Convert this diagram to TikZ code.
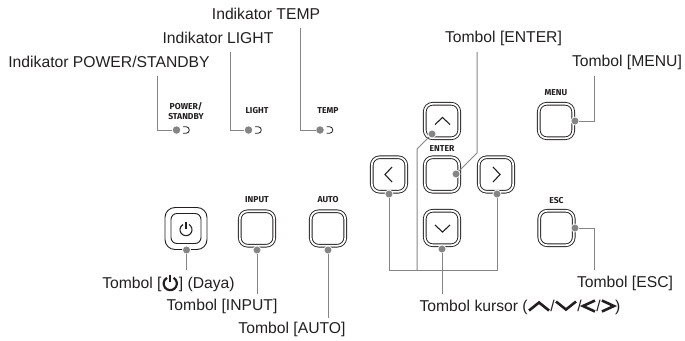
\documentclass[tikz,border=0pt]{standalone}
\usepackage{fontspec}
\setmainfont{Liberation Sans}
\newfontfamily\panelfont{Fira Sans}
\definecolor{leadgray}{HTML}{858585}
\definecolor{inkblack}{HTML}{231F20}
\newcommand{\chevicon}[1]{\tikz[x=1pt,y=1pt,baseline=0pt]{\draw[line width=2.6pt,color=inkblack,line cap=butt] #1;}}
\newcommand{\powicon}{\tikz[x=1pt,y=1pt,baseline=-1pt]{\draw[line width=2.2pt,color=inkblack] (3.4,9.6) arc (60:-240:6.6);\draw[line width=2.2pt,color=inkblack] (0,5) -- (0,12.5);}}
\tikzset{
  lbl/.style={font=\fontsize{15.7}{18}\selectfont, text=inkblack, inner sep=0pt},
  panel/.style={font=\panelfont\bfseries\fontsize{8.6}{10}\selectfont, text=inkblack, inner sep=0pt, align=center},
  btn/.style={draw=inkblack, double=white, double distance=1.8pt, line width=0.9pt, rounded corners=8pt, minimum size=34.5pt, inner sep=0pt},
  dot/.style={circle, fill=leadgray, draw=white, line width=0.7pt, minimum size=8pt, inner sep=0pt},
  lead/.style={draw=leadgray, line width=1pt},
  chev/.style={draw=inkblack, line width=1.1pt},
}
\begin{document}
\begin{tikzpicture}[x=1pt,y=-1pt]
  \useasboundingbox (0,0) rectangle (685,340);
  % buttons
  \foreach \nm/\x/\y in {btnup/442/121,btnenter/442/174.5,btnleft/389/174.5,btnright/496/174.5,btndown/442/228,btnmenu/556/121,btnesc/556.5/228,btninput/257/228.5,btnauto/328/228.5} {
    \node[btn] (\nm) at (\x,\y) {};
  }
  \node[draw=inkblack, line width=0.9pt, rounded corners=6pt, minimum size=30pt, inner sep=0pt] (btnpower) at (186,228.5) {};
  \node[draw=inkblack, line width=0.9pt, rounded corners=10pt, minimum size=42pt, inner sep=0pt] (btnpowerout) at (186,228.5) {};
  % button icons
  \draw[chev] (435,124.5) -- (442.5,117.5) -- (450,124.5);
  \draw[chev] (435,225) -- (442.5,232) -- (450,225);
  \draw[chev] (392,167) -- (385,174.5) -- (392,182);
  \draw[chev] (493,167) -- (500,174.5) -- (493,182);
  \draw[chev] (189,224.5) arc (-60:240:6);
  \draw[chev] (186,221.5) -- (186,229);
  % panel captions
  \node[panel] (capstandby) at (186,111) {POWER/\\STANDBY};
  \node[panel] (caplight) at (257,111) {LIGHT};
  \node[panel] (captemp) at (328,111) {TEMP};
  \node[panel] (capenter) at (442,149) {ENTER};
  \node[panel] (capmenu) at (556,93) {MENU};
  \node[panel] (capesc) at (556.5,201) {ESC};
  \node[panel] (capinput) at (257,200) {INPUT};
  \node[panel] (capauto) at (328,200) {AUTO};
  % indicator lamps
  \foreach \nm/\x/\y in {ledstandby/176.5/130,ledlight/248.5/130,ledtemp/320/130} {
    \node[dot, minimum size=7.5pt, draw=none] (\nm) at (\x,\y) {};
    \draw[chev, line width=0.8pt] (\x+6.5,\y-3.3) -- (\x+9.5,\y-3.3) arc (-90:90:3.3) -- (\x+6.5,\y+3.3);
  }
  % button dots
  \foreach \nm/\x/\y in {dotup/432/134,dotenter/456/174,dotleft/389/194,dotright/497/194,dotdown/442/249,dotmenu/575/121,dotesc/575/228,dotpower/186.5/250,dotinput/257/250,dotauto/328/250} {
    \node[dot] (\nm) at (\x,\y) {};
  }
  % labels
  \node[lbl] (lbltemp) at (266,14) {Indikator TEMP};
  \node[lbl] (lbllight) at (218,38) {Indikator LIGHT};
  \node[lbl] (lblstandby) at (109,62) {Indikator POWER/STANDBY};
  \node[lbl] (lblenter) at (503.5,38) {Tombol [ENTER]};
  \node[lbl] (lblmenu) at (627,62) {Tombol [MENU]};
  \node[lbl] (lblpower) at (168.5,283) {Tombol [\powicon] (Daya)};
  \node[lbl] (lblinput) at (222,306) {Tombol [INPUT]};
  \node[lbl] (lblauto) at (292,329) {Tombol [AUTO]};
  \node[lbl] (lblesc) at (625,283) {Tombol [ESC]};
  \node[lbl] (lblcursor) at (520,307) {Tombol kursor (\chevicon{(0,1) -- (10,9) -- (20,1)}/\chevicon{(0,10) -- (10,2) -- (20,10)}/\chevicon{(13,11) -- (1,5.5) -- (13,0)}/\chevicon{(0,11) -- (12,5.5) -- (0,0)})};
  % leader ends
  \coordinate (endstandby) at (157.5,76);
  \coordinate (endlight) at (230,52);
  \coordinate (endtemp) at (300.5,28);
  \coordinate (endenter) at (477,52);
  \coordinate (bendenter) at (477,153);
  \coordinate (endmenu) at (594,76);
  \coordinate (endesc) at (594,270);
  \coordinate (endpower) at (186.5,270);
  \coordinate (endinput) at (257,294);
  \coordinate (endauto) at (328,318);
  \coordinate (endcursor) at (442,294);
  \coordinate (busleft) at (389,270);
  \coordinate (busright) at (497,270);
  \coordinate (busup) at (417,270);
  \coordinate (bendup) at (417,149);
  % leaders
  \foreach \a/\b in {ledstandby/endstandby,ledlight/endlight,ledtemp/endtemp,dotmenu/endmenu,dotesc/endesc} {
    \draw[lead] (\a) -| (\b);
  }
  \foreach \a/\b in {dotpower/endpower,dotinput/endinput,dotauto/endauto,dotdown/endcursor} {
    \draw[lead] (\a) -- (\b);
  }
  \draw[lead] (dotenter) -- (bendenter) -- (endenter);
  \draw[lead] (dotleft) -- (busleft) -- (busright) -- (dotright);
  \draw[lead] (dotup) -- (bendup) -- (busup);
\end{tikzpicture}
\end{document}
